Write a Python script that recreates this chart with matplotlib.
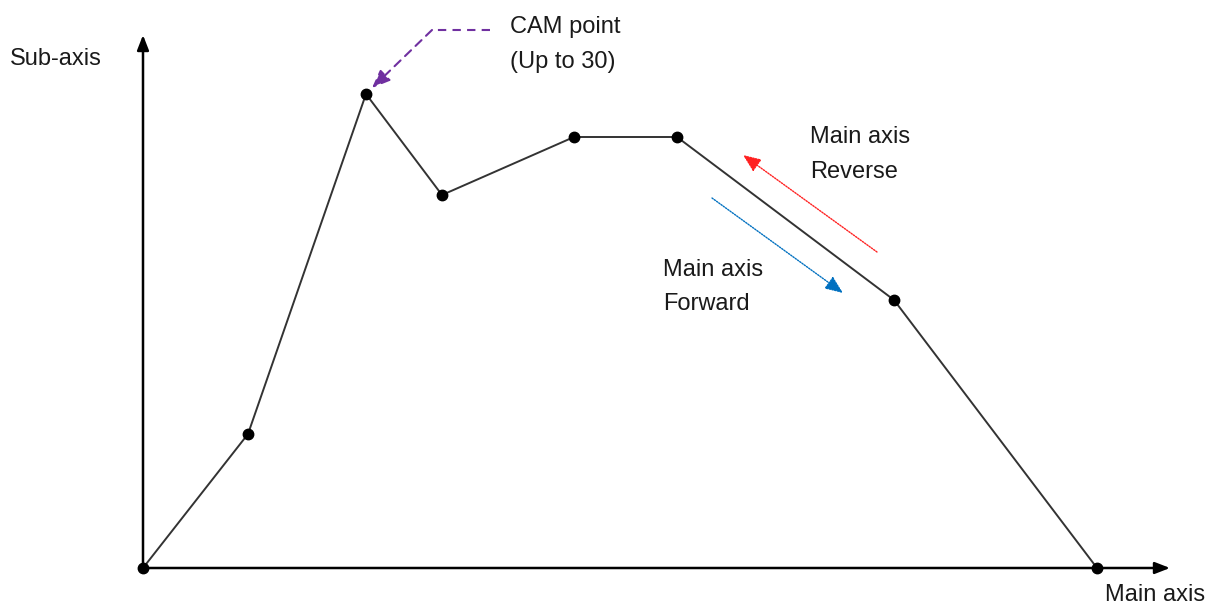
import matplotlib.pyplot as plt

# CAM profile points (main axis position, sub-axis position)
main_pos = [0, 105, 223, 299, 431, 534, 751, 954]
sub_pos = [0, 134, 474, 373, 431, 431, 268, 0]

X_END = 1027
Y_END = 533

plt.rcParams['font.family'] = ['Liberation Sans', 'DejaVu Sans']

fig = plt.figure(figsize=(12.09, 6.05), dpi=100)
ax = fig.add_axes([0, 0, 1, 1])
ax.set_xlim(-143, 1066)
ax.set_ylim(-37, 568)
ax.axis('off')

# axes with arrows
arrow_kw = dict(arrowstyle='-|>,head_length=0.9,head_width=0.35', color='black', lw=1.8,
                shrinkA=0, shrinkB=0)
ax.annotate('', xy=(X_END, 0), xytext=(0, 0), arrowprops=arrow_kw)
ax.annotate('', xy=(0, Y_END), xytext=(0, 0), arrowprops=arrow_kw)

# profile
ax.plot(main_pos, sub_pos, color='#333333', lw=1.4, marker='o', ms=7.5,
        mfc='black', mec='black', zorder=3, clip_on=False)

fs = 17
tc = '#1a1a1a'
ax.text(-133, 509, 'Sub-axis', fontsize=fs, va='center', ha='left', color=tc)
ax.text(962, -27, 'Main axis', fontsize=fs, va='center', ha='left', color=tc)

# CAM point callout
purple = '#7030A0'
ax.plot([347, 289], [538, 538], color=purple, lw=1.5, ls=(0, (4, 3)))
ax.annotate('', xy=(229, 480), xytext=(289, 538),
            arrowprops=dict(arrowstyle='-|>,head_length=1.1,head_width=0.45', color=purple,
                            lw=1.5, ls=(0, (4, 3)), shrinkA=0, shrinkB=0))
ax.text(367, 541, 'CAM point', fontsize=fs, va='center', ha='left', color=tc)
ax.text(367, 506, '(Up to 30)', fontsize=fs, va='center', ha='left', color=tc)

# direction arrows
ax.annotate('', xy=(600, 413), xytext=(734, 316),
            arrowprops=dict(arrowstyle='-|>,head_length=1.1,head_width=0.45', color='#FF2020',
                            lw=1.0, ls=(0, (1, 1)), shrinkA=0, shrinkB=0))
ax.annotate('', xy=(700, 275), xytext=(569, 370),
            arrowprops=dict(arrowstyle='-|>,head_length=1.1,head_width=0.45', color='#0070C0',
                            lw=1.0, ls=(0, (1, 1)), shrinkA=0, shrinkB=0))
ax.text(667, 431, 'Main axis', fontsize=fs, va='center', ha='left', color=tc)
ax.text(667, 396, 'Reverse', fontsize=fs, va='center', ha='left', color=tc)
ax.text(520, 298, 'Main axis', fontsize=fs, va='center', ha='left', color=tc)
ax.text(520, 264, 'Forward', fontsize=fs, va='center', ha='left', color=tc)

fig.savefig('out.png', dpi=100)
